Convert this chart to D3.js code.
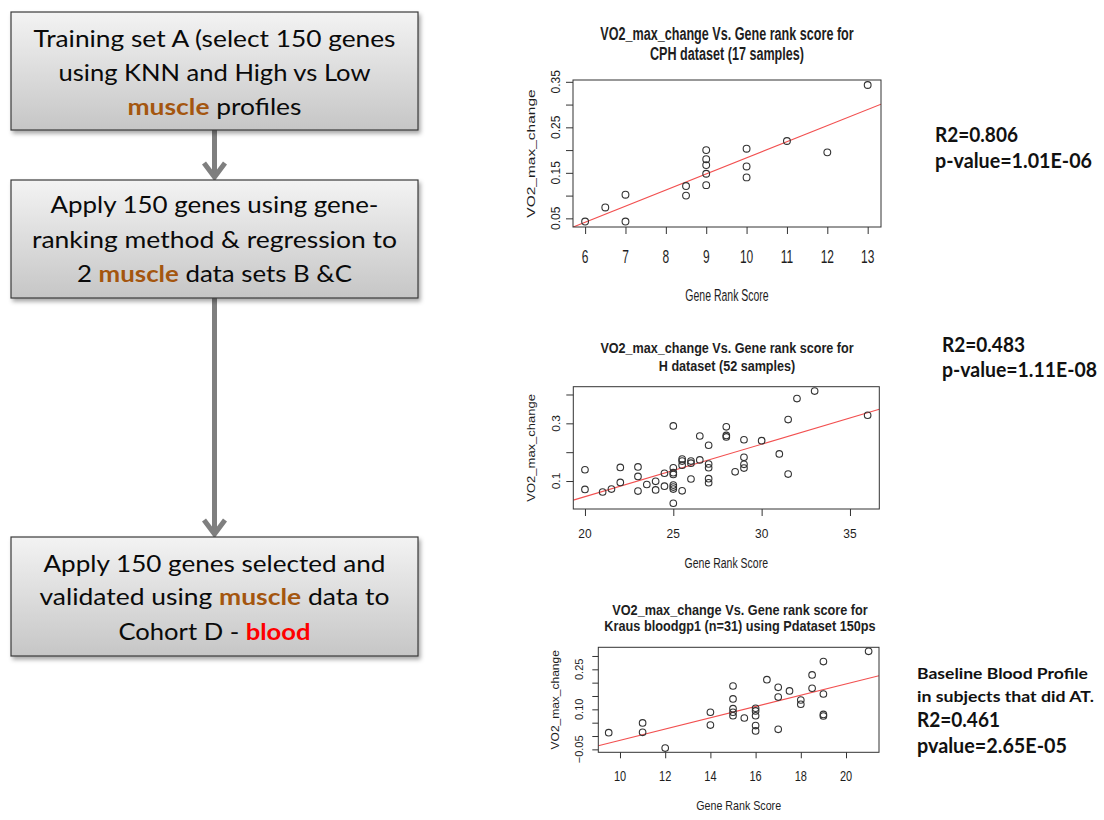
<!DOCTYPE html>
<html>
<head>
<meta charset="utf-8">
<script src="https://cdn.jsdelivr.net/npm/d3@7"></script>
<style>
  body { margin: 0; background: #fff; }
  svg { display: block; }
</style>
</head>
<body>
<script>
// ---- data ----
// CPH dataset (17 samples)
const cphRank = [6, 6.5, 7, 7, 8.5, 8.5, 9, 9, 9, 9, 9, 10, 10, 10, 11, 12, 13];
const cphVO2  = [0.043, 0.074, 0.102, 0.043, 0.121, 0.100, 0.200, 0.180, 0.167, 0.148, 0.123,
                 0.203, 0.164, 0.140, 0.220, 0.195, 0.343];
const cphFit  = [-0.171, 0.0354];           // intercept, slope of the red line
const cphXTicks = [6, 7, 8, 9, 10, 11, 12, 13];
const cphYTicks = [0.05, 0.10, 0.15, 0.20, 0.25, 0.30, 0.35];
const cphYLabels = [0.05, 0.15, 0.25, 0.35];

// H dataset (52 samples)
const hRank = [20, 20, 21, 21.5, 22, 22, 23, 23, 23, 23.5, 24, 24, 24.5, 24.5,
               25, 25, 25, 25, 25, 25, 25, 25, 25.5, 25.5, 25.5, 25.5, 26, 26, 26,
               26.5, 26.5, 27, 27, 27, 27, 27, 28, 28, 28, 28.5, 29, 29, 29, 29,
               30, 31, 31.5, 31.5, 32, 33, 36];
const hVO2  = [0.139, 0.071, 0.062, 0.072, 0.147, 0.095, 0.149, 0.116, 0.065, 0.088, 0.099, 0.069, 0.127, 0.082,
               0.291, 0.146, 0.129, 0.123, 0.086, 0.079, 0.072, 0.023, 0.176, 0.169, 0.155, 0.066, 0.169, 0.162, 0.107,
               0.173, 0.256, 0.224, 0.159, 0.146, 0.108, 0.094, 0.288, 0.258, 0.253, 0.132, 0.243, 0.182, 0.158, 0.145,
               0.240, 0.194, 0.313, 0.124, 0.386, 0.412, 0.328];
const hFit  = [-0.318, 0.01819];
const hXTicks = [20, 25, 30, 35];
const hYTicks = [0.1, 0.2, 0.3, 0.4];
const hYLabels = [0.1, 0.3];

// Kraus bloodgp1 (n=31)
const krausRank = [9.5, 11, 11, 12, 14, 14, 15, 15, 15, 15, 15, 15.5, 16, 16, 16, 16, 16,
                   16.5, 17, 17, 17, 17.5, 18, 18, 18.5, 18.5, 19, 19, 19, 19, 21];
const krausVO2  = [0.0125, 0.049, 0.014, -0.045, 0.089, 0.041, 0.1875, 0.139, 0.1025, 0.089, 0.076, 0.0675,
                   0.104, 0.094, 0.076, 0.039, 0.019, 0.211, 0.1825, 0.146, 0.025, 0.169, 0.135, 0.119,
                   0.229, 0.179, 0.279, 0.1575, 0.081, 0.075, 0.3175];
const krausFit  = [-0.227, 0.0211];
const krausXTicks = [10, 12, 14, 16, 18, 20];
const krausYTicks = [-0.05, 0, 0.05, 0.10, 0.15, 0.20, 0.25, 0.30];
const krausYLabels = [-0.05, 0.10, 0.25];

// ---- flowchart and annotation text ----
const flowLines = [
  [[{ t: "Training set A (select 150 genes" }], [{ t: "using KNN and High vs Low" }],
   [{ t: "muscle", k: "muscle" }, { t: " profiles" }]],
  [[{ t: "Apply 150 genes using gene-" }], [{ t: "ranking method & regression to" }],
   [{ t: "2 " }, { t: "muscle", k: "muscle" }, { t: " data sets B &C" }]],
  [[{ t: "Apply 150 genes selected and" }], [{ t: "validated using " }, { t: "muscle", k: "muscle" }, { t: " data to" }],
   [{ t: "Cohort D - " }, { t: "blood", k: "blood" }]]
];
const statLines = [
  ["R2=0.806", "p-value=1.01E-06"],
  ["R2=0.483", "p-value=1.11E-08"],
  ["Baseline Blood Profile", "in subjects that did AT.", "R2=0.461", "pvalue=2.65E-05"]
];

const W = 1104, H = 820;
const svg = d3.select("body").append("svg").attr("width", W).attr("height", H);
const defs = svg.append("defs");

const grad = defs.append("linearGradient").attr("id", "boxFill")
  .attr("x1", 0).attr("y1", 0).attr("x2", 0).attr("y2", 1);
grad.append("stop").attr("offset", "0%").attr("stop-color", "#f3f3f3");
grad.append("stop").attr("offset", "100%").attr("stop-color", "#c6c6c6");

defs.append("filter").attr("id", "shadow").attr("x", "-5%").attr("y", "-10%")
  .attr("width", "115%").attr("height", "130%")
  .append("feDropShadow").attr("dx", 2).attr("dy", 3).attr("stdDeviation", 2)
  .attr("flood-color", "#000").attr("flood-opacity", 0.35);

// ---- flowchart ----
const boxes = [
  { y0: 12, y1: 130, base: [47, 81, 115], widths: [362, 312, 174] },
  { y0: 180, y1: 298, base: [213, 248, 282], widths: [328, 365, 275] },
  { y0: 537, y1: 656, base: [572, 605, 640], widths: [342, 350, 192] }
];
const boxX0 = 11, boxX1 = 418, cx = 214.5;
const segColor = { muscle: "#a4560f", blood: "#ff0000" };

// arrows between the boxes
[[boxes[0].y1, boxes[1].y0], [boxes[1].y1, boxes[2].y0]].forEach(([a, b]) => {
  const g = svg.append("g").attr("stroke", "#7f7f7f").attr("fill", "none");
  g.append("line").attr("x1", cx).attr("x2", cx).attr("y1", a).attr("y2", b - 4)
    .attr("stroke-width", 5);
  g.append("path").attr("d", `M${cx - 10.5},${b - 17} L${cx},${b - 3} L${cx + 10.5},${b - 17}`)
    .attr("stroke-width", 5).attr("stroke-linejoin", "miter");
});

boxes.forEach((b, i) => {
  svg.append("rect").attr("x", boxX0).attr("y", b.y0)
    .attr("width", boxX1 - boxX0).attr("height", b.y1 - b.y0)
    .attr("fill", "url(#boxFill)").attr("stroke", "#3a3a3a").attr("stroke-width", 1.2)
    .attr("filter", "url(#shadow)");
  flowLines[i].forEach((segs, j) => {
    const t = svg.append("text").attr("x", cx).attr("y", b.base[j])
      .attr("text-anchor", "middle")
      .attr("textLength", b.widths[j]).attr("lengthAdjust", "spacingAndGlyphs")
      .style("font-family", "Lato, 'Open Sans', sans-serif").style("font-size", "23px")
      .attr("fill", "#0a0a0a");
    segs.forEach(s => {
      const ts = t.append("tspan").text(s.t);
      if (s.k) ts.attr("fill", segColor[s.k]).style("font-weight", "bold");
    });
  });
});

// ---- annotations on the right ----
const statLayout = [
  { x: 935, ys: [142, 168], sizes: [20, 20], widths: [83, 157] },
  { x: 942, ys: [352, 377], sizes: [20, 20], widths: [83, 155] },
  { x: 917, ys: [679, 702, 727, 753], sizes: [15.5, 15.5, 20, 20], widths: [171, 177, 83, 150] }
];
statLines.forEach((lines, i) => {
  const L = statLayout[i];
  lines.forEach((s, j) => {
    svg.append("text").attr("x", L.x).attr("y", L.ys[j])
      .attr("textLength", L.widths[j]).attr("lengthAdjust", "spacingAndGlyphs")
      .style("font-family", "Lato, 'Open Sans', sans-serif").style("font-weight", "bold")
      .style("font-size", L.sizes[j] + "px").attr("fill", "#111").text(s);
  });
});

// ---- R style scatter plots ----
function label(g, x, y, str, o) {
  g.append("text")
    .attr("transform", `translate(${x},${y}) scale(${o.sx || 1},${o.sy || 1})` + (o.rot ? ` rotate(${o.rot})` : ""))
    .attr("text-anchor", "middle")
    .style("font-family", "'Liberation Sans', Arial, Helvetica, sans-serif")
    .style("font-size", o.size + "px")
    .style("font-weight", o.bold ? "bold" : "normal")
    .attr("fill", "#1e1e1e")
    .text(str);
}

function drawPanel(p, id) {
  const [bx0, bx1, by0, by1] = p.box;
  const x = d3.scaleLinear().domain(p.xDom).range([bx0, bx1]);
  const y = d3.scaleLinear().domain(p.yDom).range([by1, by0]);
  const g = svg.append("g");

  defs.append("clipPath").attr("id", "clip" + id)
    .append("rect").attr("x", bx0).attr("y", by0).attr("width", bx1 - bx0).attr("height", by1 - by0);

  // title
  p.title.forEach((t, i) => label(g, p.titleX, p.titleY[i], t, { size: p.ts.size, sy: p.ts.sy, bold: true }));

  // axes (ticks only; the box is the axis line)
  const ax = g.append("g").attr("transform", `translate(0,${by1})`)
    .call(d3.axisBottom(x).tickValues(p.xTicks).tickFormat("").tickSize(p.tick).tickSizeOuter(0));
  const ay = g.append("g").attr("transform", `translate(${bx0},0)`)
    .call(d3.axisLeft(y).tickValues(p.yTicks).tickFormat("").tickSize(p.tick).tickSizeOuter(0));
  [ax, ay].forEach(a => {
    a.select(".domain").remove();
    a.selectAll("line").attr("stroke", "#333").attr("stroke-width", 1);
  });

  p.xTicks.forEach(v => label(g, x(v), p.xl.y, d3.format("d")(v), { size: p.xl.size, sy: p.xl.sy }));
  p.yLabels.forEach(v => label(g, p.yl.x, y(v), p.yFmt(v), { size: p.yl.size, sx: p.yl.sx, rot: -90 }));

  label(g, (bx0 + bx1) / 2, p.xt.y, "Gene Rank Score", { size: p.xt.size, sy: p.xt.sy });
  label(g, p.yt.x, (by0 + by1) / 2, "VO2_max_change", { size: p.yt.size, sx: p.yt.sx, rot: -90 });

  // regression line
  g.append("line").attr("clip-path", `url(#clip${id})`)
    .attr("x1", x(p.xDom[0])).attr("y1", y(p.fit[0] + p.fit[1] * p.xDom[0]))
    .attr("x2", x(p.xDom[1])).attr("y2", y(p.fit[0] + p.fit[1] * p.xDom[1]))
    .attr("stroke", "#f25050").attr("stroke-width", 1.1);

  // points
  g.selectAll("circle").data(p.xs).join("circle")
    .attr("cx", d => x(d)).attr("cy", (d, i) => y(p.ys[i])).attr("r", p.r)
    .attr("fill", "none").attr("stroke", "#333").attr("stroke-width", 1.1);

  g.append("rect").attr("x", bx0).attr("y", by0).attr("width", bx1 - bx0).attr("height", by1 - by0)
    .attr("fill", "none").attr("stroke", "#333").attr("stroke-width", 1);
}

drawPanel({
  box: [573, 881, 80, 227], xDom: [5.70, 13.33], yDom: [0.031, 0.354],
  xs: cphRank, ys: cphVO2, fit: cphFit,
  xTicks: cphXTicks, yTicks: cphYTicks, yLabels: cphYLabels, yFmt: d3.format(".2f"),
  title: ["VO2_max_change Vs. Gene rank score for", "CPH dataset (17 samples)"],
  titleX: 727, titleY: [40, 60], ts: { size: 12.6, sy: 1.42 },
  tick: 7, xl: { y: 263, size: 12, sy: 1.5 }, yl: { x: 560, size: 12, sx: 1 },
  xt: { y: 300.5, size: 10.5, sy: 1.6 }, yt: { x: 535, size: 15.5, sx: 0.72 }, r: 3.4
}, 1);

drawPanel({
  box: [573.3, 879.3, 386.7, 509], xDom: [19.34, 36.66], yDom: [0.003, 0.427],
  xs: hRank, ys: hVO2, fit: hFit,
  xTicks: hXTicks, yTicks: hYTicks, yLabels: hYLabels, yFmt: d3.format(".1f"),
  title: ["VO2_max_change Vs. Gene rank score for", "H dataset (52 samples)"],
  titleX: 727, titleY: [352.7, 370.5], ts: { size: 12.6, sy: 1.21 },
  tick: 7, xl: { y: 538.3, size: 12, sy: 1.1 }, yl: { x: 560, size: 12, sx: 0.85 },
  xt: { y: 568.3, size: 10.5, sy: 1.4 }, yt: { x: 535, size: 13, sx: 0.9 }, r: 3.3
}, 2);

drawPanel({
  box: [598.3, 879, 647.3, 752.3], xDom: [9.04, 21.46], yDom: [-0.061, 0.3325],
  xs: krausRank, ys: krausVO2, fit: krausFit,
  xTicks: krausXTicks, yTicks: krausYTicks, yLabels: krausYLabels, yFmt: d3.format(".2f"),
  title: ["VO2_max_change Vs. Gene rank score for", "Kraus bloodgp1 (n=31) using Pdataset 150ps"],
  titleX: 740, titleY: [615, 631], ts: { size: 12.7, sy: 1.16 },
  tick: 6, xl: { y: 781, size: 11, sy: 1.3 }, yl: { x: 583.3, size: 11, sx: 1 },
  xt: { y: 810, size: 10.7, sy: 1.2 }, yt: { x: 559.3, size: 12, sx: 0.95 }, r: 3.3
}, 3);
</script>
</body>
</html>
